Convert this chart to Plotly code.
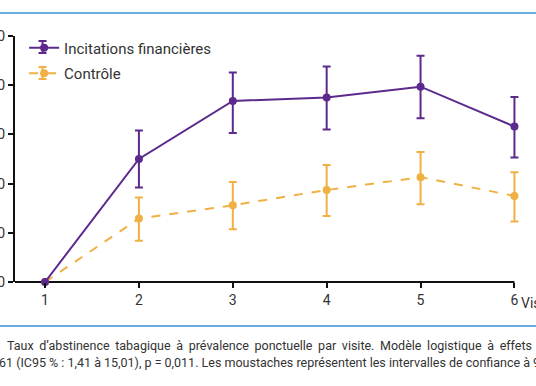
import plotly.graph_objects as go

visites = [1, 2, 3, 4, 5, 6]
tick_labels = ["1", "2", "3", "4", "5", "6"]
y_ticks = [0, 10, 20, 30, 40, 50]

incit = [0, 25.0, 36.8, 37.5, 39.7, 31.6]
incit_hi = [0, 30.8, 42.6, 43.8, 46.0, 37.6]
incit_lo = [0, 19.2, 30.3, 31.0, 33.3, 25.3]

ctrl = [0, 12.9, 15.6, 18.7, 21.3, 17.5]
ctrl_hi = [0, 17.2, 20.3, 23.8, 26.4, 22.3]
ctrl_lo = [0, 8.4, 10.7, 13.4, 15.8, 12.3]

PURPLE = "#5b2a8c"
ORANGE = "#f0b043"
FONT = "Roboto"
TXT = "#333333"
X_MIN, X_MAX = 0.68, 6.07

def err(v, hi, lo):
    return dict(type="data", symmetric=False,
                array=[h - x for h, x in zip(hi, v)],
                arrayminus=[x - l for x, l in zip(v, lo)])

fig = go.Figure()
fig.add_trace(go.Scatter(
    x=visites, y=ctrl, name="Contrôle", mode="lines+markers",
    legendgroup="b", legendrank=2,
    line=dict(color=ORANGE, width=2, dash="dash"), marker=dict(color=ORANGE, size=8),
    error_y=dict(**err(ctrl, ctrl_hi, ctrl_lo), color=ORANGE, thickness=2, width=4),
    cliponaxis=False))
fig.add_trace(go.Scatter(
    x=visites, y=incit, name="Incitations financières", mode="lines+markers",
    legendgroup="a", legendrank=1,
    line=dict(color=PURPLE, width=2), marker=dict(color=PURPLE, size=8),
    error_y=dict(**err(incit, incit_hi, incit_lo), color=PURPLE, thickness=2, width=4),
    cliponaxis=False))

# plot area: x=0.68 at 15px, x=6 at 514px
px_per = (514 - 15) / (6 - X_MIN)
right_px = 15 + (X_MAX - X_MIN) * px_per

fig.update_layout(
    width=536, height=386,
    margin=dict(l=15, r=536 - right_px, t=36, b=104, autoexpand=False),
    paper_bgcolor="white", plot_bgcolor="white",
    font=dict(family=FONT, color=TXT, size=12),
    showlegend=True,
    legend=dict(x=0.018, y=1.018, xanchor="left", yanchor="top",
                font=dict(family=FONT, size=15, color=TXT),
                bgcolor="rgba(0,0,0,0)", tracegroupgap=3),
    xaxis=dict(range=[X_MIN, X_MAX], tickvals=visites, ticktext=tick_labels,
               showgrid=False, zeroline=False, showline=False,
               ticks="outside", ticklen=5, tickwidth=2, tickcolor="#111111",
               tickfont=dict(size=14, color=TXT), automargin=False),
    yaxis=dict(range=[0, 50], tickvals=y_ticks, showgrid=False, zeroline=False,
               showline=True, linecolor="#111111", linewidth=2, ticks="outside",
               ticklen=5, tickwidth=2, tickcolor="#111111",
               tickfont=dict(size=14, color=TXT), automargin=False),
)

# x axis line ending at the last visit
fig.add_shape(type="line", xref="x", yref="paper", x0=X_MIN, x1=visites[-1], y0=0, y1=0,
              line=dict(color="#111111", width=2), layer="below")

plot_w = right_px - 15
def px2paper_x(px):
    return (px - 15) / plot_w
def px2paper_y(py):
    return (282 - py) / 246

# decorative rules
for yy in [13, 326]:
    fig.add_shape(type="line", xref="paper", yref="paper",
                  x0=-0.05, x1=1.05, y0=px2paper_y(yy), y1=px2paper_y(yy),
                  line=dict(color="#6aaee0", width=2))

# whiskers on the legend symbols
for cy, col in [(47, PURPLE), (73, ORANGE)]:
    cx = 42.5
    fig.add_shape(type="line", xref="paper", yref="paper",
                  x0=px2paper_x(cx), x1=px2paper_x(cx), y0=px2paper_y(cy - 6), y1=px2paper_y(cy + 6),
                  line=dict(color=col, width=2))
    for dy in (-6, 6):
        fig.add_shape(type="line", xref="paper", yref="paper",
                      x0=px2paper_x(cx - 4), x1=px2paper_x(cx + 4),
                      y0=px2paper_y(cy + dy), y1=px2paper_y(cy + dy),
                      line=dict(color=col, width=2))

fig.add_annotation(text="Visite", xref="paper", yref="paper",
                   x=px2paper_x(519), y=px2paper_y(303), xanchor="left", yanchor="middle",
                   showarrow=False, font=dict(size=14, color=TXT))

sp = " \u2009"
cap1 = sp.join("Taux d’abstinence tabagique à prévalence ponctuelle par visite. Modèle logistique à effets mixtes".split(" "))
cap2 = "61 (IC95 % : 1,41 à 15,01), p = 0,011. Les moustaches représentent les intervalles de confiance à 95 %."
fig.add_annotation(text=cap1, xref="paper", yref="paper",
                   x=px2paper_x(5), y=px2paper_y(345), xanchor="left", yanchor="middle",
                   showarrow=False, font=dict(size=12.5, color=TXT))
fig.add_annotation(text=cap2, xref="paper", yref="paper",
                   x=px2paper_x(-3), y=px2paper_y(362), xanchor="left", yanchor="middle",
                   showarrow=False, font=dict(size=12.5, color=TXT))

fig.write_html("out.html", config={"displayModeBar": False},
               post_script="document.body.style.margin='0';document.body.style.overflow='hidden';")
